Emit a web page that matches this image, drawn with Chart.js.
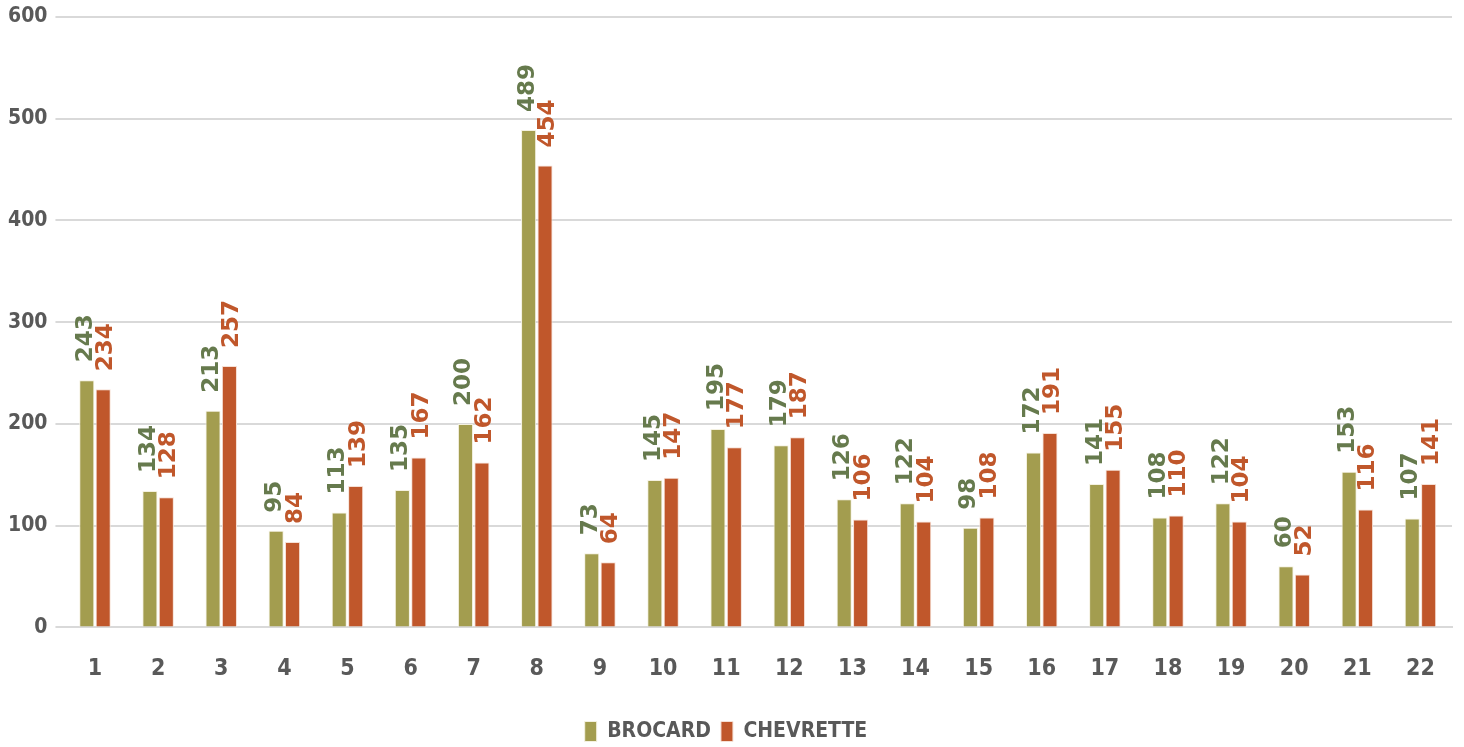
<!DOCTYPE html>
<html>
<head>
<meta charset="utf-8">
<script src="https://cdn.jsdelivr.net/npm/chart.js@4"></script>
<style>
  html, body { margin: 0; padding: 0; background: #fff; }
  #wrap { width: 1464px; height: 747px; }
</style>
</head>
<body>
<div id="wrap"><canvas id="chart"></canvas></div>
<script>
const categories = ['1','2','3','4','5','6','7','8','9','10','11','12','13','14','15','16','17','18','19','20','21','22'];
const brocard = [243,134,213,95,113,135,200,489,73,145,195,179,126,122,98,172,141,108,122,60,153,107];
const chevrette = [234,128,257,84,139,167,162,454,64,147,177,187,106,104,108,191,155,110,104,52,116,141];
const labelColors = ['#667a4d', '#c0572b'];
const axisFont = '"DejaVu Sans Condensed", sans-serif';

// étiquettes verticales au-dessus des barres
const verticalLabels = {
  id: 'verticalLabels',
  afterDatasetsDraw(chart) {
    const ctx = chart.ctx;
    chart.data.datasets.forEach((ds, i) => {
      const meta = chart.getDatasetMeta(i);
      meta.data.forEach((bar, j) => {
        ctx.save();
        ctx.translate(bar.x + (i === 0 ? -1 : 3), bar.y - 18);
        ctx.rotate(-Math.PI / 2);
        ctx.font = 'bold 23px "DejaVu Sans"';
        ctx.fillStyle = labelColors[i];
        ctx.textAlign = 'left';
        ctx.textBaseline = 'middle';
        ctx.fillText(String(ds.data[j]), 0, 0);
        ctx.restore();
      });
    });
  }
};

const ctx = document.getElementById('chart').getContext('2d');
new Chart(ctx, {
  type: 'bar',
  data: {
    labels: categories,
    datasets: [{
      label: 'BROCARD',
      data: brocard,
      backgroundColor: '#a39d4f',
      borderColor: '#f4f1e0',
      borderWidth: 1,
      categoryPercentage: 0.52,
      barPercentage: 0.92
    }, {
      label: 'CHEVRETTE',
      data: chevrette,
      backgroundColor: '#c0572b',
      borderColor: '#f6e0d5',
      borderWidth: 1,
      categoryPercentage: 0.52,
      barPercentage: 0.92
    }]
  },
  options: {
    responsive: true,
    maintainAspectRatio: false,
    animation: false,
    layout: { padding: { top: 0, right: 12, left: 0, bottom: -5 } },
    plugins: {
      legend: {
        position: 'bottom',
        labels: {
          boxWidth: 12,
          boxHeight: 20,
          padding: 10,
          color: '#595959',
          font: { family: axisFont, size: 21, weight: 'bold' }
        }
      },
      tooltip: { enabled: false }
    },
    scales: {
      y: {
        min: 0,
        max: 600,
        afterFit(scale) { scale.paddingTop = 17; },
        ticks: {
          stepSize: 100,
          padding: 8,
          color: '#595959',
          font: { family: axisFont, size: 21, weight: 'bold' }
        },
        grid: { color: '#d9d9d9', lineWidth: 2 },
        border: { display: false }
      },
      x: {
        afterFit(scale) { scale.height += 8; },
        ticks: {
          padding: 20,
          color: '#595959',
          font: { family: axisFont, size: 23, weight: 'bold' }
        },
        grid: { display: false },
        border: { color: '#d9d9d9', width: 2 }
      }
    }
  },
  plugins: [verticalLabels]
});
</script>
</body>
</html>
